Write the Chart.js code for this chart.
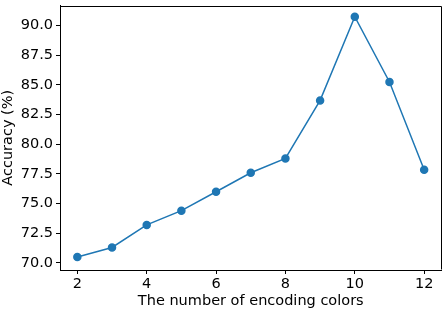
<!DOCTYPE html>
<html>
<head>
<meta charset="utf-8">
<script src="https://cdn.jsdelivr.net/npm/chart.js@4"></script>
<style>
  html, body { margin: 0; padding: 0; background: #fff; }
  #wrap { width: 447px; height: 310px; }
</style>
</head>
<body>
<div id="wrap"><canvas id="line-chart"></canvas></div>
<script>
// Datos
const colors = [2, 3, 4, 5, 6, 7, 8, 9, 10, 11, 12];
const accuracy = [70.5, 71.3, 73.2, 74.4, 76.0, 77.6, 78.8, 83.7, 90.75, 85.25, 77.85];
const xTicks = [2, 4, 6, 8, 10, 12];
const yTicks = [70.0, 72.5, 75.0, 77.5, 80.0, 82.5, 85.0, 87.5, 90.0];

const font = { family: 'DejaVu Sans', size: 14.5 };

// caja alrededor del area del grafico (estilo matplotlib)
const frame = {
  id: 'frame',
  afterDraw(chart) {
    const a = chart.chartArea, ctx = chart.ctx;
    const l = Math.round(a.left) + 0.5, t = Math.round(a.top) + 0.5;
    const r = Math.round(a.right) - 0.5, b = Math.round(a.bottom) - 0.5;
    ctx.save();
    ctx.strokeStyle = '#000';
    ctx.lineWidth = 1;
    ctx.beginPath();
    ctx.moveTo(l, t);
    ctx.lineTo(r, t);
    ctx.lineTo(r, b);
    ctx.moveTo(l, t);
    ctx.lineTo(l, b);
    ctx.stroke();
    ctx.restore();
  }
};

const data = {
  datasets: [{
    data: colors.map((c, i) => ({ x: c, y: accuracy[i] })),
    borderColor: '#1f77b4',
    backgroundColor: '#1f77b4',
    borderWidth: 1.5,
    pointRadius: 3.5,
    showLine: true,
    tension: 0
  }]
};

const options = {
  responsive: true,
  maintainAspectRatio: false,
  animation: false,
  layout: { padding: { top: 3, right: 3, left: 0, bottom: 0 } },
  plugins: { legend: { display: false }, tooltip: { enabled: false } },
  scales: {
    x: {
      type: 'linear',
      min: 1.5,
      max: 12.5,
      afterBuildTicks: s => { s.ticks = xTicks.map(v => ({ value: v })); },
      afterFit: s => { s.height = 40; s.paddingLeft = 0; s.paddingRight = 0; },
      grid: { drawOnChartArea: false, drawTicks: true, tickLength: 4, color: '#000' },
      border: { color: '#000' },
      ticks: { color: '#000', font: font, padding: 2, maxRotation: 0 },
      title: { display: true, text: 'The number of encoding colors', color: '#000', font: font, padding: { top: 0, bottom: 0 } }
    },
    y: {
      min: 69.4,
      max: 91.7,
      afterBuildTicks: s => { s.ticks = yTicks.map(v => ({ value: v })); },
      afterFit: s => { s.width = 60; s.paddingTop = 0; s.paddingBottom = 0; },
      grid: { drawOnChartArea: false, drawTicks: true, tickLength: 4, color: '#000' },
      border: { color: '#000' },
      ticks: { color: '#000', font: font, padding: 3, callback: v => v.toFixed(1) },
      title: { display: true, text: 'Accuracy (%)', color: '#000', font: font, padding: { top: 0, bottom: 0 } }
    }
  }
};

new Chart(document.getElementById('line-chart'), {
  type: 'scatter',
  data: data,
  options: options,
  plugins: [frame]
});
</script>
</body>
</html>
